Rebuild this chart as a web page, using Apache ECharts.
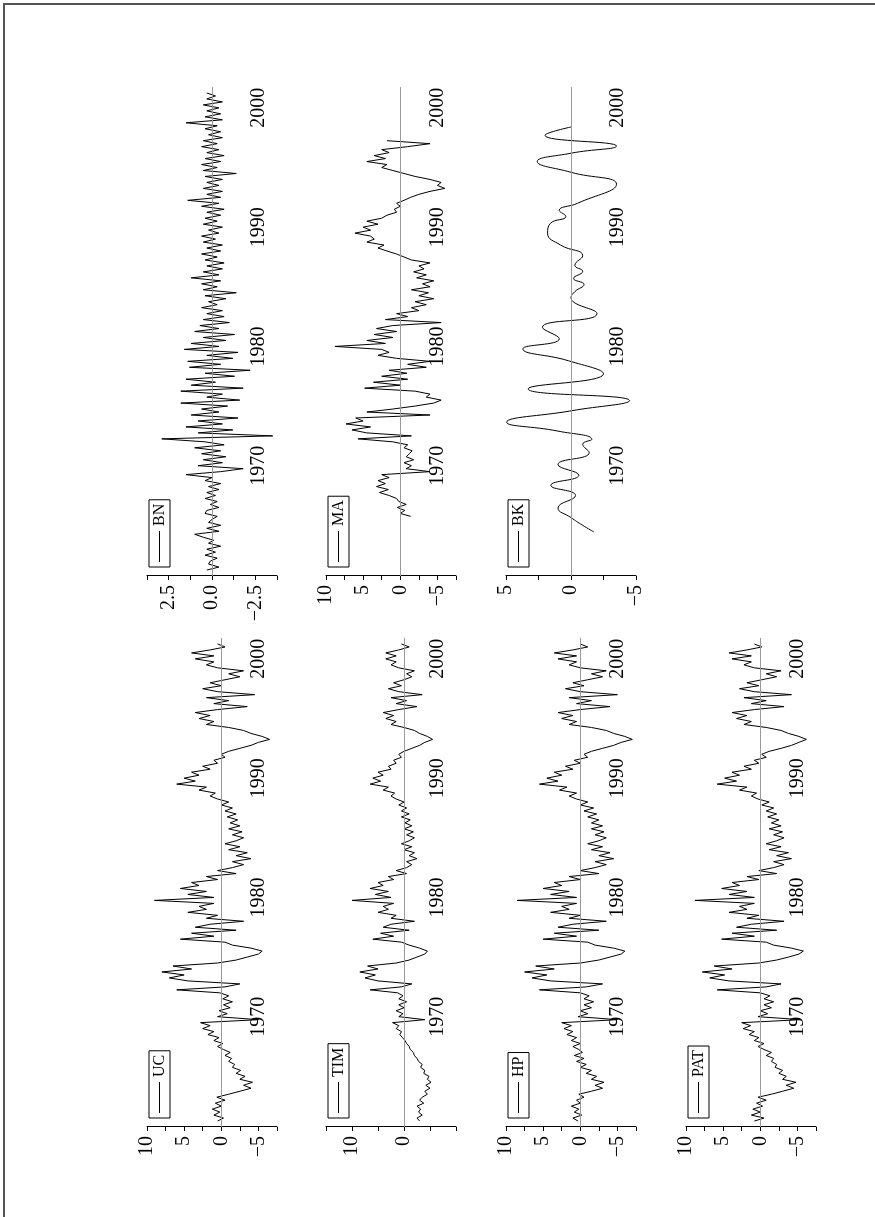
<!DOCTYPE html>
<html>
<head>
<meta charset="utf-8">
<script src="https://cdn.jsdelivr.net/npm/echarts@6/dist/echarts.min.js"></script>
<style>
html,body{margin:0;padding:0;background:#fff;}
#page{position:relative;width:875px;height:1217px;overflow:hidden;background:#fff;}
#frame{position:absolute;left:3px;top:3px;width:900px;height:1240px;border-left:2px solid #555;border-top:2px solid #555;}
#chart{position:absolute;left:0;top:0;width:1217px;height:875px;transform-origin:0 0;transform:translate(0,1217px) rotate(-90deg);}
</style>
</head>
<body>
<div id="page"><div id="frame"></div><div id="chart"></div></div>
<script>
// ---- data (quarterly readings, first value at 1961.25) ----
const T0 = 1961.25;
const DT = 0.25;
const yearTicks = [1970, 1980, 1990, 2000];

const UC = [
 0.5,-0.3,1.0,0.2, 1.2,0.0,0.8,-0.5, 0.6,-1.0,-2.5,-4.0, -3.0,-4.2,-2.5,-3.2,
 -2.0,-2.6,-1.5,-1.8, -1.0,-1.4,-0.5,-1.2, -0.3,0.5,-0.2,1.0, 0.3,1.8,1.0,2.5,
 1.5,2.8,-5.0,0.5, -0.8,0.3,-1.2,-0.3, -1.5,-0.2,-1.0,0.2, 6.0,-0.5,-2.5,4.5,
 7.0,5.0,8.0,4.0, 6.5,0.5,-2.0,-3.5, -5.0,-5.5,-4.0,-1.5, -0.5,5.5,1.0,4.0,
 -2.0,3.5,1.5,-3.0, 2.0,0.5,4.5,2.0, 3.0,1.0,9.0,1.0, 4.5,2.0,5.5,3.0,
 4.0,0.5,2.0,-2.0, 0.5,-1.5,-3.0,-1.5, -4.0,-2.0,-3.5,-1.0, -2.5,-0.5,-2.0,-3.0,
 -1.5,-2.8,-1.0,-2.5, -1.2,-2.2,-0.8,-2.0, -0.5,-1.5,0.0,-1.0, 0.5,1.5,0.8,3.0,
 2.0,6.0,3.5,5.0, 3.0,4.0,1.5,2.5, 0.5,1.0,-0.5,0.0, -1.0,-2.5,-4.0,-5.0,
 -6.5,-5.5,-4.0,-3.0, -1.0,2.0,1.0,3.0, 1.5,3.5,0.5,-3.5, 1.0,-1.0,2.0,-4.5,
 0.5,2.5,0.0,1.5, -0.5,-2.5,-1.0,-3.0, 0.5,2.0,1.0,3.5, 1.0,4.0,1.5,-0.5, 0.5
];
const TIM = [
 -3.0,-2.5,-3.5,-2.8, -3.2,-2.5,-3.8,-3.0, -3.5,-4.5,-4.0,-5.0, -4.2,-5.2,-4.5,-4.8,
 -3.8,-4.0,-3.2,-3.5, -2.8,-2.5,-2.0,-1.8, -1.2,-1.0,-0.5,-0.2, 0.3,0.8,0.5,1.5,
 1.0,2.2,-4.0,1.0, 0.2,1.5,0.0,1.0, -0.5,1.0,0.2,1.2, 6.5,0.5,-1.5,5.0,
 7.5,5.5,8.5,5.0, 7.0,1.5,-1.0,-2.5, -4.0,-4.5,-3.0,-1.0, 0.5,6.0,2.0,4.5,
 -1.0,4.0,2.5,-2.0, 2.5,1.5,5.0,3.0, 4.0,2.0,10.0,2.5, 5.5,3.0,6.5,4.0,
 5.0,2.0,3.0,-0.5, 1.5,-0.5,-1.5,-0.5, -2.5,-1.0,-2.0,0.0, -1.5,0.5,-1.0,-2.0,
 -0.5,-1.8,0.0,-1.5, -0.2,-1.2,0.5,-1.0, 0.5,-0.5,1.0,0.0, 1.5,2.5,1.8,4.0,
 3.0,6.5,4.5,6.0, 4.0,5.0,2.5,3.0, 1.5,2.0,0.5,1.0, 0.0,-1.5,-3.0,-4.0,
 -5.5,-4.5,-3.0,-2.0, 0.0,2.5,1.5,3.5, 2.0,4.0,1.0,-2.5, 1.5,-0.5,2.5,-3.5,
 1.0,3.0,0.5,2.0, 0.0,-1.5,-0.5,-2.0, 1.0,2.5,1.5,3.5, 1.5,3.5,1.0,-1.0, 0.5
];
const HP = [
 0.3,1.0,-0.2,0.8, 0.2,1.2,0.0,0.5, -0.5,0.2,-1.5,-3.0, -2.0,-3.2,-1.5,-2.2,
 -0.8,-1.5,0.0,-0.8, 0.5,-0.5,0.8,-0.3, 0.2,1.0,0.0,1.2, 0.5,1.8,1.0,2.2,
 1.2,2.5,-5.0,0.3, -1.0,0.0,-1.5,-0.5, -1.8,-0.5,-1.2,0.0, 5.5,-0.8,-3.0,4.0,
 6.5,4.5,7.5,3.5, 6.0,0.0,-2.5,-4.0, -5.5,-6.0,-4.5,-2.0, -1.0,5.0,0.5,3.5,
 -2.5,3.0,1.0,-3.5, 1.5,0.0,4.0,1.5, 2.5,0.5,8.5,0.5, 4.0,1.5,5.0,2.5,
 3.5,0.0,1.5,-2.5, 0.0,-2.0,-3.5,-2.0, -4.5,-2.5,-4.0,-1.5, -3.0,-1.0,-2.5,-3.5,
 -2.0,-3.2,-1.5,-3.0, -1.5,-2.5,-1.0,-2.2, -0.5,-1.8,0.0,-1.0, 0.5,1.5,0.5,2.8,
 1.8,5.5,3.0,4.5, 2.5,3.5,1.0,2.0, 0.0,0.8,-1.0,-0.5, -1.5,-3.0,-4.5,-5.5,
 -7.0,-6.0,-4.5,-3.5, -1.5,1.5,0.5,2.5, 1.0,3.0,0.0,-4.0, 0.5,-1.5,1.5,-5.0,
 0.0,2.0,-0.5,1.0, -1.0,-3.0,-1.5,-3.5, 0.0,1.5,0.5,3.0, 0.5,3.5,1.0,-1.0, 0.0
];
const PAT = [
 0.8,-0.5,1.2,0.0, 1.0,-0.3,0.5,-0.8, 0.3,-1.5,-3.0,-4.5, -3.5,-4.8,-3.0,-3.5,
 -2.5,-3.0,-2.0,-2.2, -1.5,-1.8,-0.8,-1.5, -0.5,0.3,-0.5,0.8, 0.2,1.5,0.8,2.3,
 1.3,2.5,-5.5,0.3, -1.0,0.0,-1.5,-0.5, -1.8,-0.5,-1.3,0.0, 5.8,-0.8,-2.8,4.2,
 6.8,4.8,7.8,3.8, 6.2,0.2,-2.2,-3.8, -5.2,-5.8,-4.2,-1.8, -0.8,5.2,0.8,3.8,
 -2.2,3.2,1.2,-3.2, 1.8,0.2,4.2,1.8, 2.8,0.8,8.8,0.8, 4.2,1.8,5.2,2.8,
 3.8,0.2,1.8,-2.2, 0.2,-1.8,-3.2,-1.8, -4.2,-2.2,-3.8,-1.2, -2.8,-0.8,-2.2,-3.2,
 -1.8,-3.0,-1.2,-2.8, -1.5,-2.5,-1.0,-2.2, -0.8,-1.8,-0.2,-1.2, 0.3,1.2,0.5,2.8,
 1.8,5.8,3.2,4.8, 2.8,3.8,1.2,2.2, 0.2,0.8,-0.8,-0.2, -1.2,-2.8,-4.2,-5.2,
 -6.2,-5.2,-3.8,-2.8, -0.8,2.2,1.2,3.2, 1.8,3.8,0.8,-3.2, 1.2,-0.8,2.2,-4.2,
 0.8,2.8,0.2,1.8, -0.2,-2.2,-0.8,-2.8, 0.8,2.2,1.2,3.8, 1.2,4.2,1.8,-0.2, 0.8
];
const BN = [
 0.3,-0.4,0.2,0.1, -0.3,0.4,-0.2,0.3, -0.5,0.2,-0.1,0.5, 1.0,-0.4,0.3,-0.5,
 0.2,0.0,-0.3,0.4, 0.3,-0.4,0.1,-0.3, 0.4,-0.2,0.3,-0.4, 0.2,-0.5,0.4,0.0,
 1.5,-0.5,-1.8,0.8, -0.6,0.5,-0.8,0.6, -0.5,1.0,-0.7,0.4, 2.9,-3.5,0.8,-1.2,
 1.5,-0.6,0.8,-1.5, 1.2,-0.4,0.6,-0.9, 1.8,-1.6,0.3,-0.6, 1.8,-1.8,1.2,-0.2,
 1.5,-1.3,0.4,-2.2, 1.3,-0.5,1.4,-1.2, 0.3,-1.5,1.6,-0.4, 1.2,-0.8,0.5,-1.3,
 1.0,-0.4,0.7,-1.0, 0.5,-0.7,0.3,-0.6, 0.6,-0.3,0.2,-0.8, 0.4,-1.4,0.5,-0.3,
 0.6,-0.5,1.2,-0.4, 0.5,-0.6,0.3,-0.7, 0.4,-0.3,0.6,-0.5, 0.3,-0.6,0.5,-0.2,
 0.6,-0.4,0.2,-0.6, 0.5,-0.3,0.4,-0.5, 0.3,-0.7,0.6,-0.4, 1.4,-0.5,0.3,-0.6,
 0.5,-0.4,0.3,-0.6, 0.4,-1.4,0.5,-0.3, 0.6,-0.5,0.4,-0.7, 0.3,-0.4,0.6,-0.3,
 0.5,-0.6,0.2,-0.5, 0.4,-0.3,1.5,-0.6, 0.4,-0.5,0.3,-0.4, 0.5,-0.6,0.3,-0.2, 0.3
];
const MA_START = 1965.75;
const MA = [
 -1.4,0.0,
 -0.6,0.4,-0.8,0.2, 0.5,1.5,2.8,1.6, 3.2,2.0,3.0,1.5, 2.5,-4.0,-0.8,-1.5,
 -0.5,-1.8,-0.8,-1.2, -1.6,-0.5,-1.0,1.0, 5.7,-1.5,4.5,6.5, 4.0,7.3,5.0,6.0,
 -4.0,4.5,1.0,-2.0, -4.5,-5.5,-3.5,-4.0, -2.0,4.8,0.0,3.6, -1.0,2.5,-0.9,1.5,
 -3.5,-1.0,-4.0,0.5, 3.0,1.5,2.5,8.8, 2.0,4.5,1.0,3.5, 0.5,3.2,1.0,-5.5,
 2.0,-1.0,0.5,-2.5, -1.5,-3.5,-2.0,-4.5, -2.5,-3.8,-1.5,-4.0, -3.0,-4.5,-2.2,-3.5,
 -1.8,-3.2,-2.5,-4.0, -1.5,-0.5,0.5,1.8, 3.0,2.2,4.5,3.5, 4.0,6.1,4.0,5.0,
 3.0,4.5,2.5,1.8, 0.5,0.8,0.0,0.5, -0.5,-1.4,-2.5,-4.0, -6.0,-5.0,-5.5,-4.0,
 -2.0,-0.5,1.0,2.5, 1.8,4.5,2.0,3.5, 1.5,2.5,-1.0,-4.0, 1.8
];
const BK_YEARS = [1964.45,1965.0,1965.65,1966.45,1967.5,1968.35,1969.2,1970.1,1971.1,1971.8,1972.2,
 1972.9,1973.64,1974.6,1975.46,1976.44,1977.7,1978.8,1979.8,1980.64,1981.6,1982.75,1984.1,1984.6,
 1985.2,1985.7,1986.3,1986.8,1987.6,1988.5,1989.5,1990.3,1990.9,1991.4,1992.0,1993.6,1994.6,
 1995.5,1996.2,1996.8,1997.7,1998.4];
const BK = [-1.75,-0.9,0.0,1.0,-0.35,1.55,-0.6,1.0,-1.4,-0.9,-1.6,
 1.0,4.95,0.0,-4.5,3.3,-2.5,0.2,3.7,0.9,2.2,-2.0,0.0,-0.3,
 -1.0,-0.2,-0.9,-0.3,-0.9,0.8,1.8,1.6,0.4,0.9,-0.5,-3.5,0.0,
 2.6,0.0,-3.5,2.0,0.0];

// ---- layout ----
const FONT = '"Liberation Serif","Times New Roman",serif';
const COL_LEFT = [90, 641];
const ROW_TOP = [147, 326, 506, 686];
const PW = 489, PH = 130;
const XMIN = 1960.75, XMAX = 2001.75;

function q(arr, start) { return arr.map((v, i) => [start + i * DT, v]); }

const panels = [
  {name:'UC',  data:q(UC, T0),  col:0, row:0, min:-7.5, max:10, step:2.5, lab:5},
  {name:'TIM', data:q(TIM, T0), col:0, row:1, min:-10, max:15, step:5, lab:10, hideMin:true},
  {name:'HP',  data:q(HP, T0),  col:0, row:2, min:-7.5, max:10, step:2.5, lab:5},
  {name:'PAT', data:q(PAT, T0), col:0, row:3, min:-7.5, max:10, step:2.5, lab:5},
  {name:'BN',  data:q(BN, T0),  col:1, row:0, min:-3.75, max:3.75, step:1.25, lab:2.5, dec:1},
  {name:'MA',  data:q(MA, MA_START), col:1, row:1, min:-7.5, max:10, step:2.5, lab:5},
  {name:'BK',  data:BK_YEARS.map((y, i) => [y, BK[i]]), col:1, row:2, min:-5, max:5, step:2.5, lab:5, smooth:true}
];

function fmt(v, p) {
  if (Math.abs(v / p.lab - Math.round(v / p.lab)) > 1e-9) return '';
  if (p.hideMin && v === p.min) return '';
  const s = p.dec ? Math.abs(v).toFixed(p.dec) : String(Math.abs(v));
  return (v < 0 ? '\u2212' : '') + s;
}

const option = {
  animation: false,
  grid: panels.map(p => ({left: COL_LEFT[p.col], top: ROW_TOP[p.row], width: PW, height: PH})),
  xAxis: panels.map((p, i) => ({
    gridIndex: i, type: 'value', min: XMIN, max: XMAX,
    axisLine: {show: false}, splitLine: {show: false},
    axisTick: {show: false},
    axisLabel: {inside: true, customValues: yearTicks, margin: 8,
      color: '#000', fontFamily: FONT, fontSize: 20, formatter: v => String(Math.round(v))}
  })),
  yAxis: panels.map((p, i) => ({
    gridIndex: i, type: 'value', min: p.min, max: p.max, interval: p.step,
    splitLine: {show: false},
    axisLine: {show: true, onZero: false, lineStyle: {color: '#000', width: 1}},
    axisTick: {show: true, length: 4, lineStyle: {color: '#000'}},
    axisLabel: {margin: 9, color: '#000', fontFamily: FONT, fontSize: 20,
      formatter: v => fmt(v, p)}
  })),
  legend: panels.map(p => ({
    data: [p.name], left: COL_LEFT[p.col] + 9, top: ROW_TOP[p.row] + 2,
    orient: 'horizontal', borderColor: '#000', borderWidth: 1, borderRadius: 0,
    padding: [2, 4, 2, 5], itemWidth: 31, itemHeight: 1, itemGap: 0,
    icon: 'rect', itemStyle: {color: '#000', borderWidth: 0},
    textStyle: {color: '#000', fontFamily: FONT, fontSize: 16, lineHeight: 17},
    selectedMode: false
  })),
  series: panels.map((p, i) => ({
    name: p.name, type: 'line', xAxisIndex: i, yAxisIndex: i,
    data: p.data, symbol: 'none', smooth: p.smooth ? 0.5 : false,
    lineStyle: {color: '#000', width: 1}, itemStyle: {color: '#000'},
    z: 3,
    markLine: {silent: true, symbol: ['none', 'none'], label: {show: false},
      lineStyle: {color: '#999', type: 'solid', width: 1},
      emphasis: {disabled: true}, data: [{yAxis: 0}]}
  }))
};

const chart = echarts.init(document.getElementById('chart'), null, {renderer: 'canvas', width: 1217, height: 875});
chart.setOption(option);
</script>
</body>
</html>
